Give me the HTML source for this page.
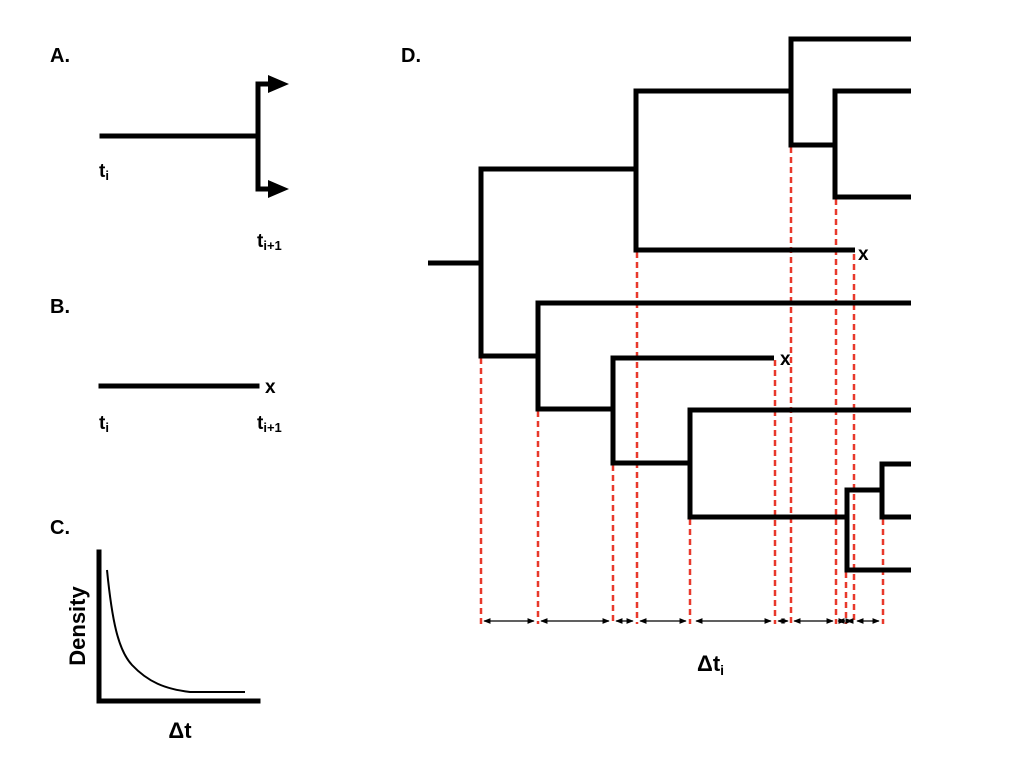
<!DOCTYPE html>
<html><head><meta charset="utf-8"><style>body{margin:0;background:#fff}svg{display:block}text{font-family:"Liberation Sans",sans-serif;font-weight:bold;fill:#000}</style></head>
<body>
<svg width="1024" height="768" viewBox="0 0 1024 768">
<defs>
<marker id="ah" viewBox="0 0 10 10" refX="9" refY="5" markerWidth="6" markerHeight="6" orient="auto-start-reverse"><path d="M0,1 L10,5 L0,9 z" fill="#000"/></marker>
</defs>
<text x="50" y="62" font-size="20">A.</text>
<text x="50" y="313" font-size="20">B.</text>
<text x="50" y="534" font-size="20">C.</text>
<text x="401" y="62" font-size="20">D.</text>
<g stroke="#000" stroke-width="5" fill="none" stroke-linecap="square">
<line x1="102" y1="136" x2="256" y2="136"/>
<polyline points="268,84 258,84 258,189 268,189"/>
<line x1="101" y1="386" x2="257" y2="386"/>
<line x1="99" y1="552" x2="99" y2="701"/>
<line x1="99" y1="701" x2="258" y2="701"/>
</g>
<path d="M268,75 L289,84 L268,93 z M268,180 L289,189 L268,198 z" fill="#000"/>
<text x="99" y="177" font-size="19">t<tspan font-size="13" dy="3">i</tspan></text>
<text x="257" y="247" font-size="19">t<tspan font-size="13" dy="3">i+1</tspan></text>
<text x="265" y="393" font-size="19">x</text>
<text x="99" y="429" font-size="19">t<tspan font-size="13" dy="3">i</tspan></text>
<text x="257" y="429" font-size="19">t<tspan font-size="13" dy="3">i+1</tspan></text>
<path d="M107,570 C112,620 118,650 132,665 C148,682 165,689 190,692 L245,692" stroke="#000" stroke-width="2" fill="none"/>
<text transform="translate(85,626) rotate(-90)" font-size="22" text-anchor="middle">Density</text>
<text x="180" y="738" font-size="22" text-anchor="middle">Δt</text>
<g stroke="#e8392b" stroke-width="2.5" stroke-dasharray="6,4" fill="none">
<line x1="481" y1="358" x2="481" y2="624"/>
<line x1="538" y1="411" x2="538" y2="624"/>
<line x1="613" y1="465" x2="613" y2="624"/>
<line x1="637" y1="252" x2="637" y2="624"/>
<line x1="690" y1="519" x2="690" y2="624"/>
<line x1="775" y1="360" x2="775" y2="624"/>
<line x1="791" y1="147" x2="791" y2="624"/>
<line x1="836" y1="199" x2="836" y2="624"/>
<line x1="846" y1="572" x2="846" y2="624"/>
<line x1="854" y1="254" x2="854" y2="624"/>
<line x1="883" y1="519" x2="883" y2="624"/>
</g>
<g stroke="#000" stroke-width="5" fill="none">
<line x1="428" y1="263" x2="481" y2="263"/>
<polyline points="636,169 481,169 481,356 538,356"/>
<polyline points="791,91 636,91 636,250 855,250"/>
<polyline points="911,39 791,39 791,145 835,145"/>
<polyline points="911,91 835,91 835,197 911,197"/>
<polyline points="911,303 538,303 538,409 613,409"/>
<polyline points="774,358 613,358 613,463 690,463"/>
<polyline points="911,410 690,410 690,517 847,517"/>
<polyline points="882,490 847,490 847,570 911,570"/>
<polyline points="911,464 882,464 882,517 911,517"/>
</g>
<text x="858" y="260" font-size="19">x</text>
<text x="780" y="365" font-size="19">x</text>
<g stroke="#000" stroke-width="1.2" marker-start="url(#ah)" marker-end="url(#ah)">
<line x1="484" y1="621" x2="534" y2="621"/>
<line x1="541" y1="621" x2="609" y2="621"/>
<line x1="616" y1="621" x2="633" y2="621"/>
<line x1="640" y1="621" x2="686" y2="621"/>
<line x1="696" y1="621" x2="771" y2="621"/>
<line x1="778" y1="621" x2="788" y2="621"/>
<line x1="794" y1="621" x2="833" y2="621"/>
<line x1="838" y1="621" x2="845" y2="621"/>
<line x1="847" y1="621" x2="852" y2="621"/>
<line x1="857" y1="621" x2="879" y2="621"/>
</g>
<text x="697" y="671" font-size="22">Δt<tspan font-size="14" dy="4">i</tspan></text>
</svg>
</body></html>
